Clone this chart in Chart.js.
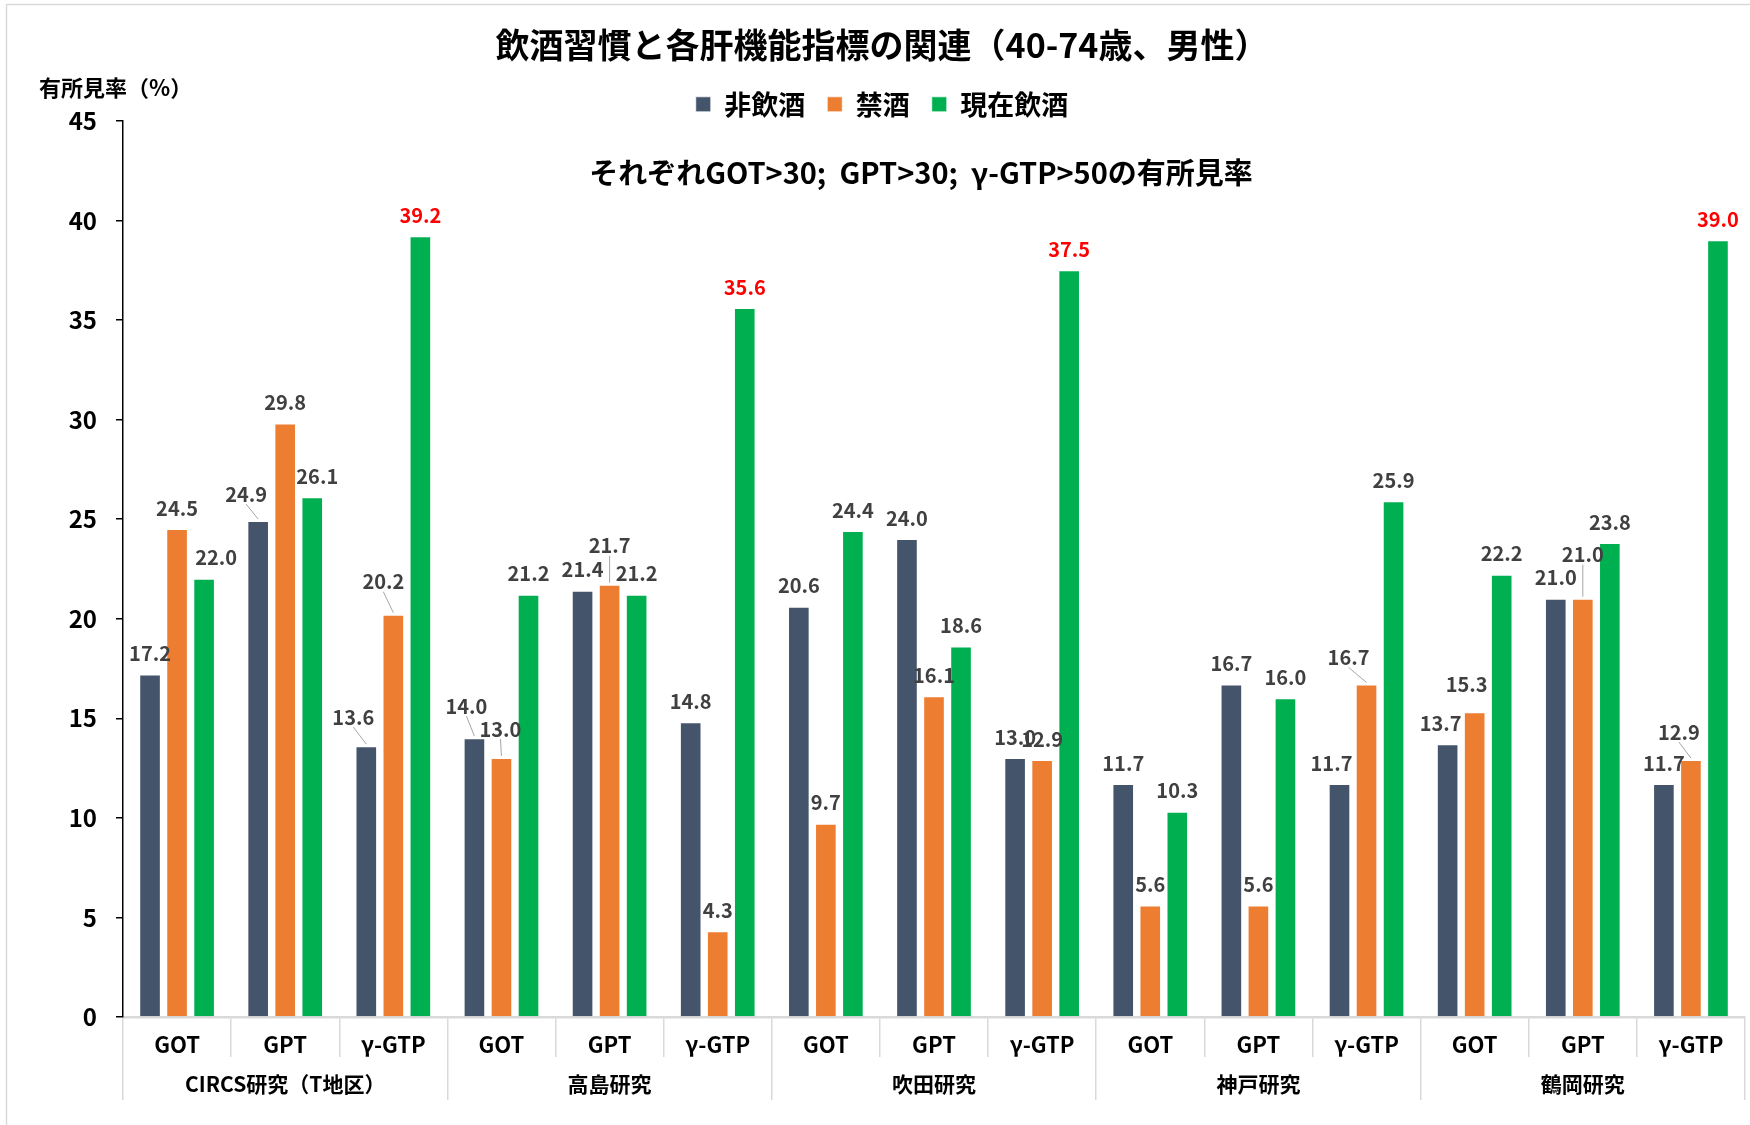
<!DOCTYPE html>
<html lang="ja">
<head>
<meta charset="utf-8">
<title>飲酒習慣と各肝機能指標の関連</title>
<script src="https://cdn.jsdelivr.net/npm/chart.js@4.4.1/dist/chart.umd.min.js"></script>
<style>
  html, body { margin: 0; padding: 0; background: #fff; }
  #wrap { width: 1750px; height: 1125px; position: relative; }
</style>
</head>
<body>
<div id="wrap"><canvas id="grafico"></canvas></div>
<script>
// 検査項目と研究
const items = ['GOT', 'GPT', 'γ-GTP'];
const studies = ['CIRCS研究（T地区）', '高島研究', '吹田研究', '神戸研究', '鶴岡研究'];

// 有所見率(%) 研究ごとに GOT, GPT, γ-GTP の順
const nonDrinker     = [17.2, 24.9, 13.6, 14.0, 21.4, 14.8, 20.6, 24.0, 13.0, 11.7, 16.7, 11.7, 13.7, 21.0, 11.7];
const exDrinker      = [24.5, 29.8, 20.2, 13.0, 21.7,  4.3,  9.7, 16.1, 12.9,  5.6,  5.6, 16.7, 15.3, 21.0, 12.9];
const currentDrinker = [22.0, 26.1, 39.2, 21.2, 21.2, 35.6, 24.4, 18.6, 37.5, 10.3, 16.0, 25.9, 22.2, 23.8, 39.0];

const seriesNames = ['非飲酒', '禁酒', '現在飲酒'];
const yMin = 0, yMax = 45, yStep = 5;
const highlightFrom = 35; // これ以上は赤字

const titleText = '飲酒習慣と各肝機能指標の関連（40-74歳、男性）';
const subTitleText = 'それぞれGOT>30;  GPT>30;  γ-GTP>50の有所見率';
const yTitleText = '有所見率（%）';

// 重なるラベルだけずらす [dx, dy, 引き出し線]
const labelShift = {
  '0-1': [-12, -6, true],
  '2-0': [12, 0, false],
  '2-1': [5, 0, false],
  '0-2': [-13, -8, true],
  '1-2': [-10, -12, true],
  '0-3': [-8, -11, true],
  '1-3': [-1, -8, true],
  '1-4': [0, -18, true],
  '0-11': [-8, 0, false],
  '1-11': [-18, -6, true],
  '0-12': [-7, 0, false],
  '1-12': [-8, -7, false],
  '1-13': [0, -23, true],
  '1-14': [-12, -7, true]
};

const FONT = '"Noto Sans CJK JP", "Noto Sans", sans-serif';
Chart.defaults.font.family = FONT;
Chart.defaults.color = '#000';

// 棒の上の数値
const valueLabels = {
  id: 'valueLabels',
  afterDatasetsDraw(chart) {
    const ctx = chart.ctx;
    ctx.save();
    ctx.font = 'bold 20px ' + FONT;
    ctx.textAlign = 'center';
    ctx.textBaseline = 'middle';
    chart.data.datasets.forEach((ds, s) => {
      chart.getDatasetMeta(s).data.forEach((bar, i) => {
        const v = ds.data[i];
        const [dx, dy, leader] = labelShift[s + '-' + i] || [0, 0, false];
        const x = bar.x + dx;
        const y = bar.y - 21 + dy;
        if (leader) {
          ctx.strokeStyle = '#A6A6A6';
          ctx.lineWidth = 1;
          ctx.beginPath();
          ctx.moveTo(x, y + 10);
          ctx.lineTo(bar.x, bar.y - 2);
          ctx.stroke();
        }
        ctx.fillStyle = v >= highlightFrom ? '#FF0000' : '#404040';
        ctx.fillText(v.toFixed(1), x, y);
      });
    });
    ctx.restore();
  }
};

// 枠線、縦軸の見出し、副題
const extras = {
  id: 'extras',
  beforeLayout(chart) {
    // 凡例の下の余白を詰める
    const lg = chart.legend;
    if (lg && !lg._trimmed) {
      const fit = lg.fit.bind(lg);
      lg.fit = function () { fit(); this.height -= 7; };
      lg._trimmed = true;
    }
  },
  beforeDraw(chart) {
    const { ctx, width, height } = chart;
    ctx.save();
    ctx.fillStyle = '#fff';
    ctx.fillRect(0, 0, width, height);
    ctx.strokeStyle = '#D9D9D9';
    ctx.lineWidth = 1.5;
    ctx.strokeRect(6.5, 4.5, width + 20, height + 20);
    ctx.restore();
  },
  afterDraw(chart) {
    const { ctx, chartArea } = chart;
    ctx.save();
    ctx.fillStyle = '#000';
    ctx.textBaseline = 'middle';
    ctx.font = 'bold 22px ' + FONT;
    ctx.textAlign = 'left';
    ctx.fillText(yTitleText, chartArea.left - 84, chartArea.top - 33);
    ctx.font = 'bold 29px ' + FONT;
    ctx.textAlign = 'center';
    ctx.fillText(subTitleText, (chartArea.left + chartArea.right) / 2 - 13, chartArea.top + 52);
    ctx.restore();
  }
};

const ctx = document.getElementById('grafico').getContext('2d');
const myChart = new Chart(ctx, {
  type: 'bar',
  data: {
    labels: studies.flatMap(() => items),
    datasets: [
      { label: seriesNames[0], data: nonDrinker, backgroundColor: '#44546A' },
      { label: seriesNames[1], data: exDrinker, backgroundColor: '#ED7D31' },
      { label: seriesNames[2], data: currentDrinker, backgroundColor: '#00B050' }
    ].map(d => Object.assign(d, {
      borderColor: 'rgba(255,255,255,0.7)',
      borderWidth: 1,
      categoryPercentage: 0.75,
      barPercentage: 0.8
    }))
  },
  options: {
    responsive: true,
    maintainAspectRatio: false,
    animation: false,
    layout: { padding: { left: 19, right: 5, top: 0, bottom: 25 } },
    plugins: {
      title: {
        display: true,
        text: titleText,
        color: '#000',
        font: { size: 34, weight: 'bold' },
        padding: { top: 25, bottom: 3 }
      },
      legend: {
        position: 'top',
        labels: {
          boxWidth: 15,
          boxHeight: 15,
          padding: 22,
          color: '#000',
          font: { size: 27, weight: 'bold' }
        }
      },
      tooltip: { enabled: false }
    },
    scales: {
      x: {
        offset: true,
        grid: { drawOnChartArea: false, drawTicks: true, tickLength: 40, offset: true, color: '#D9D9D9', lineWidth: 1.5 },
        border: { display: true, color: '#D9D9D9', width: 2.5 },
        ticks: { font: { size: 22, weight: 'bold' }, color: '#000', padding: -26, maxRotation: 0, autoSkip: false },
        afterFit(s) { s.height = 40; }
      },
      x2: {
        type: 'category',
        labels: studies,
        position: 'bottom',
        offset: true,
        grid: { drawOnChartArea: false, drawTicks: true, tickLength: 43, offset: true, color: '#D9D9D9', lineWidth: 1.5 },
        border: { display: false },
        ticks: { font: { size: 21, weight: 'bold' }, color: '#000', padding: -29, maxRotation: 0, autoSkip: false },
        afterFit(s) { s.height = 43; }
      },
      y: {
        min: yMin,
        max: yMax,
        ticks: { stepSize: yStep, font: { size: 24, weight: 'bold' }, color: '#000', padding: 19 },
        grid: { drawOnChartArea: false, drawTicks: true, tickLength: 7, color: '#000', lineWidth: 1.5 },
        border: { display: true, color: '#000', width: 1.5 },
        afterFit(s) { s.width = 104; }
      }
    }
  },
  plugins: [valueLabels, extras]
});
</script>
</body>
</html>
